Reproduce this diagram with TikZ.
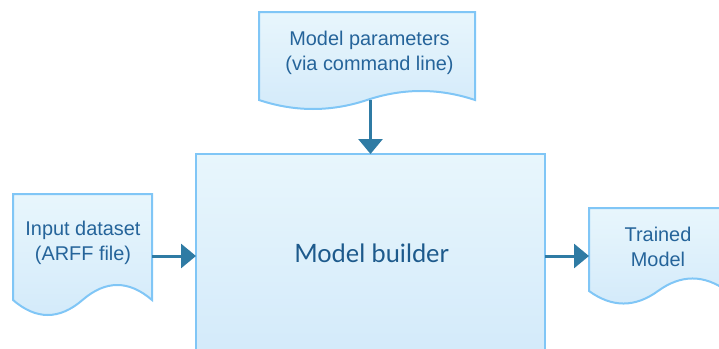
\documentclass[tikz,border=0pt]{standalone}
\usepackage{fontspec}
\setmainfont{Liberation Sans}
\newfontfamily\latofont{Lato}
\usetikzlibrary{arrows.meta,calc}
\definecolor{edgeblue}{HTML}{80C6F6}
\definecolor{filltop}{HTML}{E8F6FC}
\definecolor{fillbot}{HTML}{D3EAFA}
\definecolor{arrowblue}{HTML}{2F7BA4}
\definecolor{textblue}{HTML}{25649A}
\definecolor{titleblue}{HTML}{1D5A8C}
\newcommand\docpath[3]{(#1.north west) -- (#1.north east) -- (#1.south east)
 .. controls +(-#2,-#3) and +(#2,-#3) .. (#1.south)
 .. controls +(-#2,#3) and +(#2,#3) .. (#1.south west) -- cycle}
\tikzset{
  frame/.style={inner sep=0pt, outer sep=0pt},
  doctext/.style={align=center, text=textblue, font=\fontsize{19.9}{25}\selectfont, inner sep=0pt},
  docfill/.style={draw=edgeblue, line width=2pt, top color=filltop, bottom color=fillbot},
  flow/.style={draw=arrowblue, line width=3pt, -{Triangle[width=24pt,length=15pt]}},
}
\begin{document}
\begin{tikzpicture}[x=1pt,y=-1pt]
\useasboundingbox (0,0) rectangle (719,348);
\clip (0,0) rectangle (719,348);
% main box
\node[frame, draw=edgeblue, line width=2pt, top color=filltop, bottom color=fillbot,
  minimum width=349pt, minimum height=204pt] (box) at (370.5,256) {};
\node[text=titleblue, font=\latofont\fontsize{25.3}{29}\selectfont, inner sep=0pt] (title) at (371.5,253) {Model builder};
% documents
\node[frame, minimum width=216pt, minimum height=88pt] (paramsdoc) at (367,56) {};
\node[frame, minimum width=139pt, minimum height=106pt] (indoc) at (82.5,247) {};
\node[frame, minimum width=138pt, minimum height=83pt] (outdoc) at (658,249.5) {};
\path[docfill] \docpath{paramsdoc}{36}{12};
\path[docfill] \docpath{indoc}{23.2}{20};
\path[docfill] \docpath{outdoc}{23}{16.7};
\node[doctext] (params) at (369.5,53) {Model parameters\\(via command line)};
\node[doctext] (input) at (83,243) {Input dataset\\(ARFF file)};
\node[doctext] (output) at (658,246.5) {Trained\\Model};
% connectors
\draw[flow] (box.north |- paramsdoc.south) -- (box.north);
\draw[flow] (indoc.east |- box.west) -- (box.west);
\draw[flow] (box.east) -- (outdoc.west |- box.east);
\end{tikzpicture}
\end{document}
